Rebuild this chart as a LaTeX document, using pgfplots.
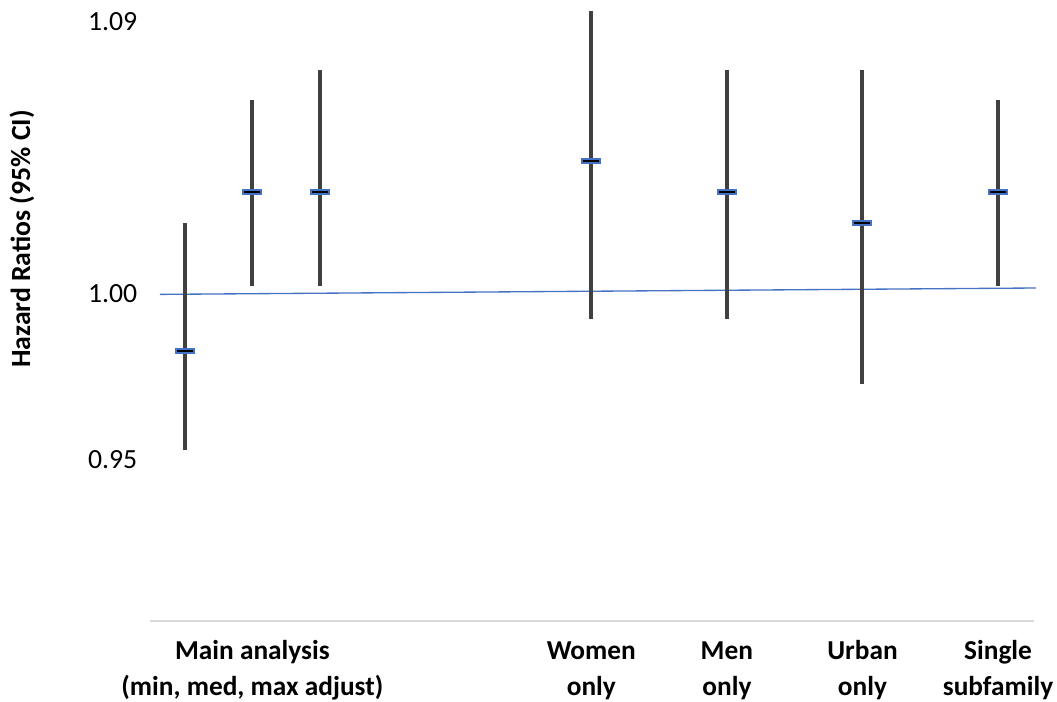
\documentclass[border=0pt]{standalone}
\usepackage{pgfplots}
\pgfplotsset{compat=1.18}
\usepackage{fontspec}
\setmainfont{Carlito}
\definecolor{barc}{HTML}{404040}
\definecolor{bluec}{HTML}{4472C4}
\definecolor{axc}{HTML}{D9D9D9}
\begin{document}
\begin{tikzpicture}
\useasboundingbox (-112.5pt,-60.75pt) rectangle (680.25pt,465.75pt);
\begin{axis}[
 at={(0pt,0pt)}, anchor=south west,
 scale only axis, width=663pt, height=465.75pt,
 xmin=-0.51, xmax=12.53,
 ymode=log, ymin=0.90057, ymax=1.09378,
 axis x line*=bottom, axis y line*=left,
 x axis line style={draw=axc, line width=1.2pt, -},
 y axis line style={draw=none},
 major tick length=0pt,
 xtick={1,6,8,10,12},
 xticklabels={{\strut Main analysis\\(min, med, max adjust)},{\strut Women\\only},{\strut Men\\only},{\strut Urban\\only},{\strut Single\\subfamily}},
 xticklabel style={align=center, font=\fontsize{20.5}{27}\selectfont\bfseries, anchor=north, yshift=-6.5pt},
 ytick={0.94711,0.99762,1.0863},
 yticklabels={0.95,1.00,1.09},
 yticklabel style={font=\fontsize{20.8}{25.5}\selectfont, xshift=-6pt},
 clip=false,
]
\addplot[bluec, line width=1pt, forget plot] coordinates {(-0.363,0.99753) (12.56,0.9995)};
\addplot[barc, line width=3pt, forget plot] coordinates {(0,0.95) (0,1.02)};
\addplot[barc, line width=3pt, forget plot] coordinates {(1,1.00) (1,1.06)};
\addplot[barc, line width=3pt, forget plot] coordinates {(2,1.00) (2,1.07)};
\addplot[barc, line width=3pt, forget plot] coordinates {(6,0.99) (6,1.09)};
\addplot[barc, line width=3pt, forget plot] coordinates {(8,0.99) (8,1.07)};
\addplot[barc, line width=3pt, forget plot] coordinates {(10,0.97) (10,1.07)};
\addplot[barc, line width=3pt, forget plot] coordinates {(12,1.00) (12,1.06)};
\addplot[only marks, mark=-, mark size=7.5pt, bluec, mark options={line width=4.5pt}, forget plot]
 coordinates {(0,0.98) (1,1.03) (2,1.03) (6,1.04) (8,1.03) (10,1.02) (12,1.03)};
\addplot[only marks, mark=-, mark size=6pt, black, mark options={line width=1.5pt}, forget plot]
 coordinates {(0,0.98) (1,1.03) (2,1.03) (6,1.04) (8,1.03) (10,1.02) (12,1.03)};
\end{axis}
\node[rotate=90, font=\fontsize{20.8}{25.5}\selectfont\bfseries] at (-96pt,286.5pt) {Hazard Ratios (95\% CI)};
\end{tikzpicture}
\end{document}
